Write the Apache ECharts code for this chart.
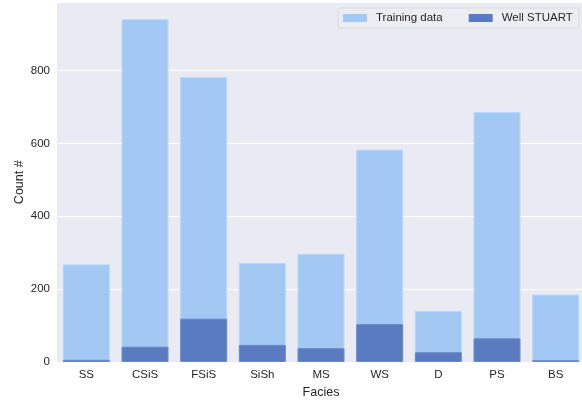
<!DOCTYPE html>
<html>
<head>
<meta charset="utf-8">
<script src="https://cdn.jsdelivr.net/npm/echarts@6/dist/echarts.min.js"></script>
<style>
html,body{margin:0;padding:0;background:#fff;}
#chart{width:582px;height:400px;}
</style>
</head>
<body>
<div id="chart"></div>
<script>
const categories = ['SS', 'CSiS', 'FSiS', 'SiSh', 'MS', 'WS', 'D', 'PS', 'BS'];
const trainingData = [268, 941, 782, 272, 297, 583, 140, 686, 185];
const wellStuart = [6, 42, 119, 47, 38, 104, 27, 65, 5];
const seriesNames = ['Training data', 'Well STUART'];
const yTicks = [0, 200, 400, 600, 800];

const chart = echarts.init(document.getElementById('chart'), null, {renderer: 'canvas'});
const font = 'Liberation Sans, Arial, sans-serif';
chart.setOption({
  animation: false,
  backgroundColor: '#ffffff',
  textStyle: {fontFamily: font},
  grid: {
    left: 57, top: 2.5, width: 528, height: 359.5,
    outerBoundsMode: 'none', containLabel: false,
    show: true, backgroundColor: '#EAEAF2', borderWidth: 0
  },
  legend: {
    left: 338, top: 8,
    padding: [4, 6, 4, 5],
    itemWidth: 24, itemHeight: 8, itemGap: 26,
    backgroundColor: 'rgba(236,236,243,0.9)',
    borderColor: '#d9d9e2', borderWidth: 1, borderRadius: 2,
    itemStyle: {borderWidth: 0},
    textStyle: {fontFamily: font, fontSize: 11.5, color: '#262626', padding: [0, 0, 0, 4]},
    icon: 'rect',
    data: seriesNames
  },
  xAxis: {
    type: 'category',
    data: categories,
    axisLine: {show: false},
    axisTick: {show: false},
    axisLabel: {color: '#262626', fontSize: 11.5, margin: 7, fontFamily: font},
    name: 'Facies',
    nameLocation: 'middle',
    nameGap: 24,
    nameMoveOverlap: false,
    nameTextStyle: {color: '#262626', fontSize: 12.5, fontFamily: font},
    splitLine: {show: false}
  },
  yAxis: {
    type: 'value',
    min: 0, max: 987, interval: 200,
    axisLine: {show: false},
    axisTick: {show: false},
    axisLabel: {
      color: '#262626', fontSize: 11.5, margin: 7, fontFamily: font,
      showMaxLabel: false,
      formatter: v => yTicks.includes(v) ? String(v) : ''
    },
    splitLine: {show: true, lineStyle: {color: '#ffffff', width: 1}},
    name: 'Count #',
    nameLocation: 'middle',
    nameGap: 31,
    nameMoveOverlap: false,
    nameTextStyle: {color: '#262626', fontSize: 12.5, fontFamily: font}
  },
  series: [
    {
      name: seriesNames[0],
      type: 'bar',
      data: trainingData,
      barWidth: '80%',
      barGap: '-100%',
      itemStyle: {color: '#a1c9f4', borderColor: '#b8d6f6', borderWidth: 1}
    },
    {
      name: seriesNames[1],
      type: 'bar',
      data: wellStuart,
      barWidth: '80%',
      barGap: '-100%',
      itemStyle: {color: '#5a7bbf', borderColor: '#6c89c6', borderWidth: 1}
    }
  ]
});
</script>
</body>
</html>
